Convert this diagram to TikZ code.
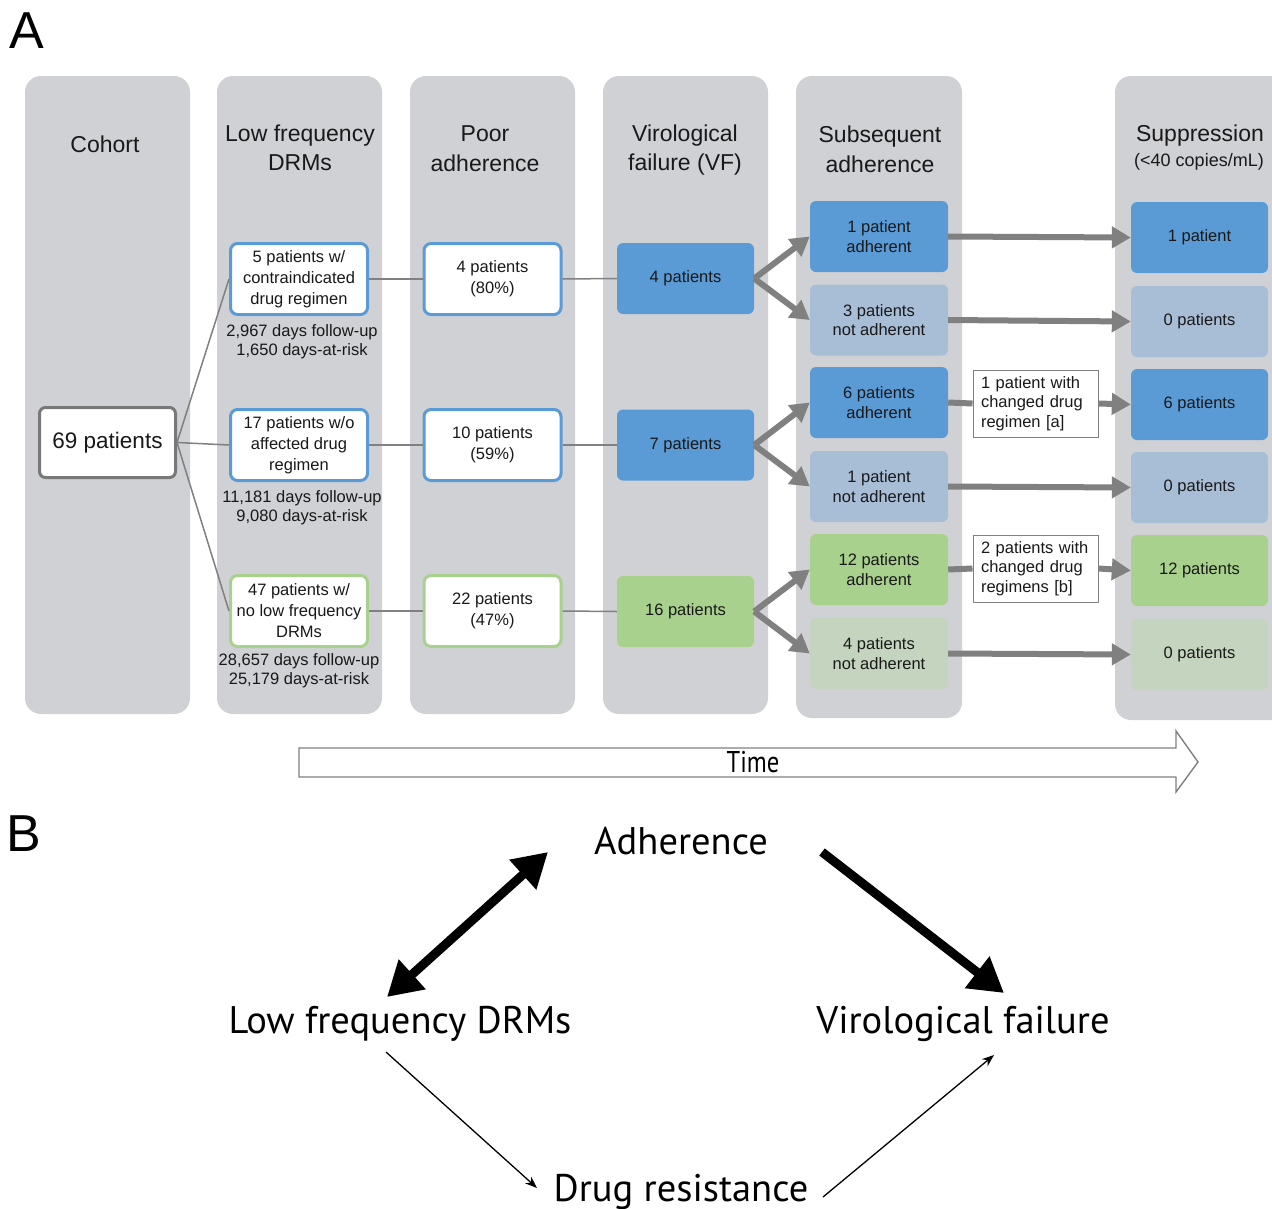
\documentclass[tikz,border=0pt]{standalone}
\usepackage{fontspec}
\setmainfont{Liberation Sans}
\newfontfamily\ptsans{PT Sans}
\usetikzlibrary{arrows.meta}
\definecolor{colgray}{RGB}{208,209,213}
\definecolor{dblue}{RGB}{91,155,213}
\definecolor{lblue}{RGB}{168,189,214}
\definecolor{dgreen}{RGB}{169,209,142}
\definecolor{lgreen}{RGB}{196,212,190}
\definecolor{arrgray}{RGB}{128,128,128}
\definecolor{cohgray}{RGB}{120,120,120}
\definecolor{txt}{RGB}{25,25,25}
\newcommand{\fsz}[2]{\fontsize{#1}{#2}\selectfont}
\begin{document}
\begin{tikzpicture}[x=1pt,y=-1pt,
  col/.style={fill=colgray, rounded corners=16pt},
  hdr/.style={font=\fsz{23}{29.5}, align=center, text=txt},
  smalltxt/.style={font=\fsz{16.5}{21}, align=center, text=txt},
  wbox/.style={smalltxt, draw=#1, line width=3pt, fill=white, rounded corners=7pt, minimum width=137pt, minimum height=71pt, inner sep=0pt},
  fbox/.style={font=\fsz{16.5}{19.5}, align=center, text=txt, fill=#1, rounded corners=6pt, minimum width=138pt, minimum height=71pt, inner sep=0pt},
  note/.style={font=\fsz{16.5}{19}, align=center, text=txt},
  thinline/.style={draw=arrgray, line width=1.5pt},
  thickarr/.style={draw=arrgray, line width=6pt, -{Triangle[length=19pt,width=21pt]}},
  thickline/.style={draw=arrgray, line width=6pt},
  lab/.style={draw=arrgray, line width=1pt, fill=white, font=\fsz{16.5}{19.5}, align=left, text=txt, minimum width=125pt, minimum height=67pt, inner sep=0pt, text width=109pt},
  bfont/.style={font=\ptsans\fsz{38.5}{44}},
  bigarr/.style={line width=9pt, -{Triangle[length=34pt,width=38pt]}},
  smallarr/.style={line width=1.3pt, -{Stealth[length=12pt,width=9pt]}}
]
\useasboundingbox (0,0) rectangle (1272,1208);
\clip (0,0) rectangle (1272,1208);
\fill[white] (0,0) rectangle (1272,1208);

% panel labels
\node[font=\fsz{52}{60}] (pa) at (27,31) {A};
\node[font=\fsz{52}{60}] (pb) at (24,834) {B};

% columns
\fill[col] (25,76) rectangle (190,714);
\fill[col] (217,76) rectangle (382,714);
\fill[col] (410,76) rectangle (575,714);
\fill[col] (603,76) rectangle (768,714);
\fill[col] (796,76) rectangle (962,718);
\fill[col] (1115,76) rectangle (1300,720);

% headers
\node[hdr] (h1) at (105,144) {Cohort};
\node[hdr] (h2) at (300,148) {Low frequency\\DRMs};
\node[hdr] (h3) at (485,148.5) {Poor\\adherence};
\node[hdr] (h4) at (685,150) {Virological\\failure (VF)};
\node[hdr] (h5) at (880,149.5) {Subsequent\\adherence};
\node[hdr] (h6) at (1200,136) {Suppression};
\node[font=\fsz{18}{22}, text=txt] (h6b) at (1199,162) {(<40 copies/mL)};

% cohort
\node[draw=cohgray, line width=3pt, fill=white, rounded corners=6pt, minimum width=136pt, minimum height=70pt, inner sep=0pt, font=\fsz{22.5}{27}, text=txt] (coh) at (107.5,442.5) {69 patients};

% low frequency boxes
\node[wbox=dblue] (lf1) at (299,279) {5 patients w/\\contraindicated\\drug regimen};
\node[wbox=dblue] (lf2) at (299,445) {17 patients w/o\\affected drug\\regimen};
\node[wbox=dgreen] (lf3) at (299,611) {47 patients w/\\no low frequency\\DRMs};
\node[note] (fu1) at (302,342) {2,967 days follow-up\\1,650 days-at-risk};
\node[note] (fu2) at (302,508) {11,181 days follow-up\\9,080 days-at-risk};
\node[note] (fu3) at (299,671) {28,657 days follow-up\\25,179 days-at-risk};

% poor adherence
\node[wbox=dblue] (pa1) at (492.5,279) {4 patients\\(80\%)};
\node[wbox=dblue] (pa2) at (492.5,445) {10 patients\\(59\%)};
\node[wbox=dgreen] (pa3) at (492.5,611) {22 patients\\(47\%)};

% virological failure
\node[fbox=dblue, minimum width=137pt] (vf1) at (685.5,278.5) {4 patients};
\node[fbox=dblue, minimum width=137pt] (vf2) at (685.5,445) {7 patients};
\node[fbox=dgreen, minimum width=137pt] (vf3) at (685.5,611.5) {16 patients};

% subsequent adherence
\node[fbox=dblue] (s1) at (879,236.5) {1 patient\\adherent};
\node[fbox=lblue] (s2) at (879,320) {3 patients\\not adherent};
\node[fbox=dblue] (s3) at (879,402.5) {6 patients\\adherent};
\node[fbox=lblue] (s4) at (879,486.5) {1 patient\\not adherent};
\node[fbox=dgreen] (s5) at (879,569.5) {12 patients\\adherent};
\node[fbox=lgreen] (s6) at (879,653.5) {4 patients\\not adherent};

% suppression
\node[fbox=dblue, minimum width=137pt] (u1) at (1199.5,237.5) {1 patient};
\node[fbox=lblue, minimum width=137pt] (u2) at (1199.5,321.5) {0 patients};
\node[fbox=dblue, minimum width=137pt] (u3) at (1199.5,404.5) {6 patients};
\node[fbox=lblue, minimum width=137pt] (u4) at (1199.5,487.5) {0 patients};
\node[fbox=dgreen, minimum width=137pt] (u5) at (1199.5,570.5) {12 patients};
\node[fbox=lgreen, minimum width=137pt] (u6) at (1199.5,654.5) {0 patients};

% labels
\node[lab] (la) at (1035.5,403.5) {1 patient with\\changed drug\\regimen [a]};
\node[lab] (lb) at (1035.5,568.5) {2 patients with\\changed drug\\regimens [b]};

% thin connectors
\draw[thinline] (coh.east) -- (lf1.west);
\draw[thinline] (coh.east) -- (lf2.west);
\draw[thinline] (coh.east) -- (lf3.west);
\draw[thinline] (lf1.east) -- (pa1.west);
\draw[thinline] (lf2.east) -- (pa2.west);
\draw[thinline] (lf3.east) -- (pa3.west);
\draw[thinline] (pa1.east) -- (vf1.west);
\draw[thinline] (pa2.east) -- (vf2.west);
\draw[thinline] (pa3.east) -- (vf3.west);

% fan arrows
\draw[thickarr] (vf1.east) -- (s1.west);
\draw[thickarr] (vf1.east) -- (s2.west);
\draw[thickarr] (vf2.east) -- (s3.west);
\draw[thickarr] (vf2.east) -- (s4.west);
\draw[thickarr] (vf3.east) -- (s5.west);
\draw[thickarr] (vf3.east) -- (s6.west);

% to suppression
\draw[thickarr] (s1.east) -- (u1.west);
\draw[thickarr] (s2.east) -- (u2.west);
\draw[thickline] (s3.east) -- (la.west);
\draw[thickarr] (la.east) -- (u3.west);
\draw[thickarr] (s4.east) -- (u4.west);
\draw[thickline] (s5.east) -- (lb.west);
\draw[thickarr] (lb.east) -- (u5.west);
\draw[thickarr] (s6.east) -- (u6.west);

% time arrow
\draw[draw=arrgray, line width=1.4pt, fill=white] (299,748) -- (1176,748) -- (1176,731) -- (1198,762) -- (1176,792) -- (1176,777) -- (299,777) -- cycle;
\node[font=\ptsans\fsz{30}{34}] (time) at (753,762) {\scalebox{0.82}[1]{Time}};

% panel B
\node[bfont] (adh) at (681,841) {Adherence};
\node[bfont] (lfd) at (400,1024) {Low frequency DRMs};
\node[bfont] (vfl) at (963,1024) {Virological failure};
\node[bfont] (drs) at (681,1192) {Drug resistance};
\coordinate (c1) at (387,997);
\coordinate (c2) at (548,852);
\coordinate (c3) at (822,852);
\coordinate (c4) at (1004,993);
\coordinate (c5) at (386,1052);
\coordinate (c6) at (537,1188);
\coordinate (c7) at (823,1197);
\coordinate (c8) at (994,1055);
\draw[bigarr, {Triangle[length=34pt,width=38pt]}-{Triangle[length=34pt,width=38pt]}] (c1) -- (c2);
\draw[bigarr] (c3) -- (c4);
\draw[smallarr] (c5) -- (c6);
\draw[smallarr] (c7) -- (c8);
\end{tikzpicture}
\end{document}
